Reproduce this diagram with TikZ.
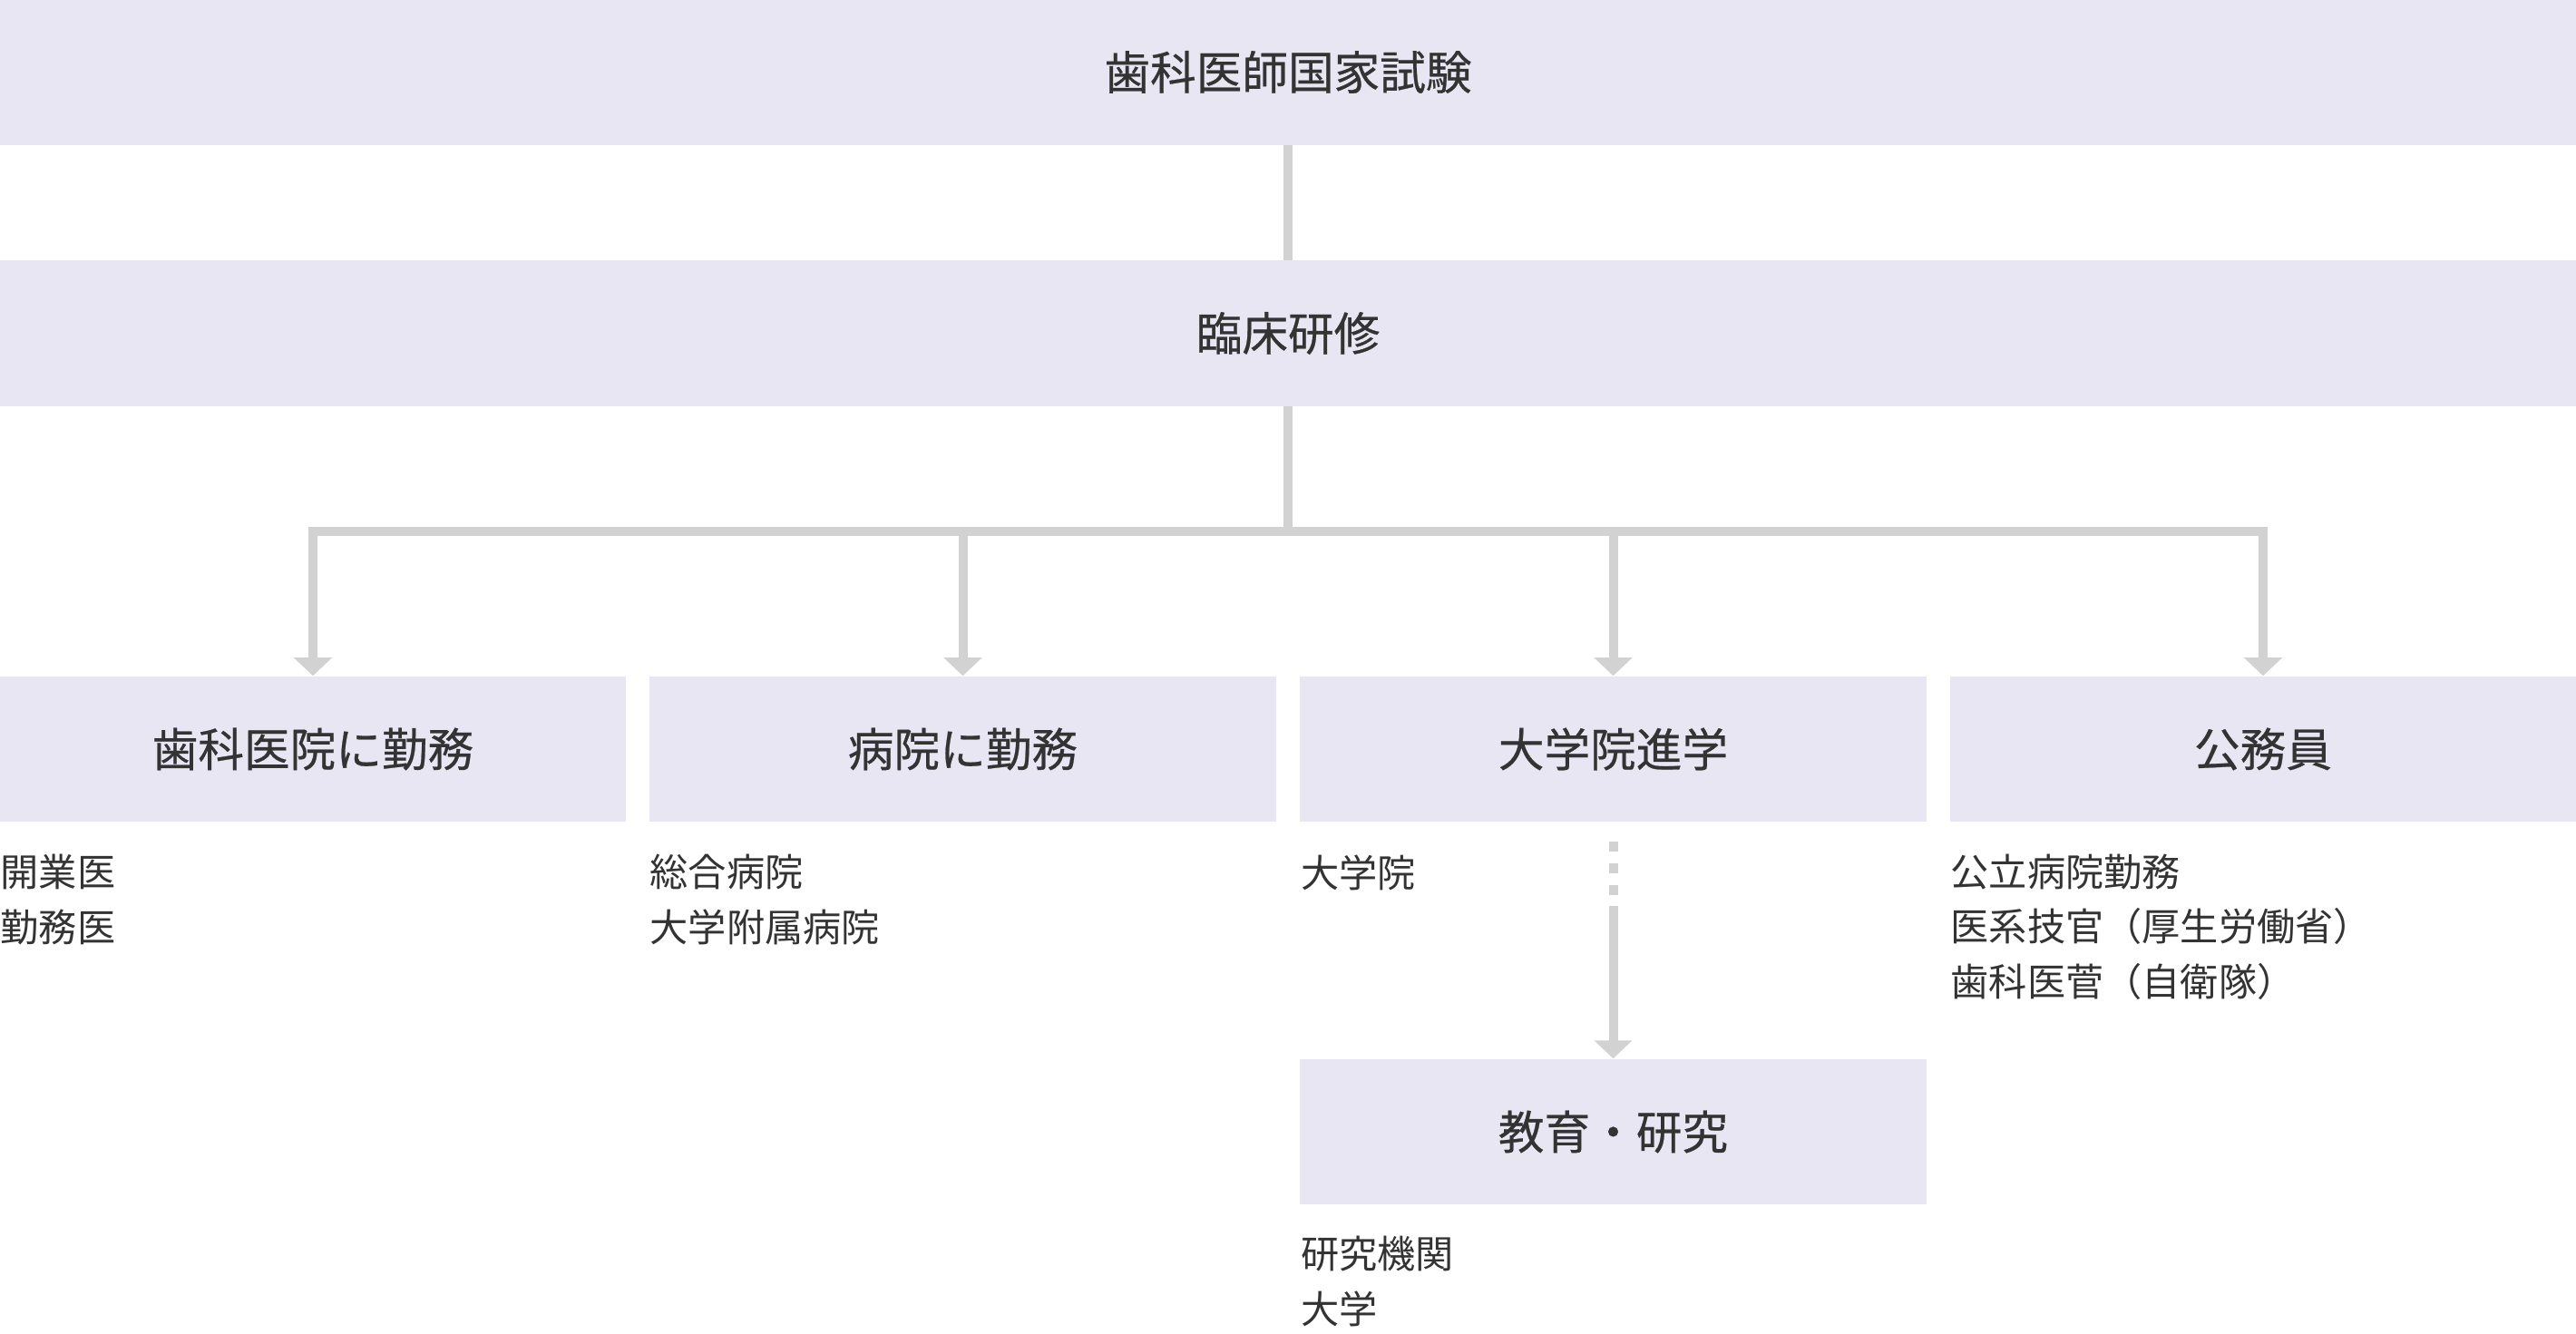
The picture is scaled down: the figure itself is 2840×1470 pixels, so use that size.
\documentclass[tikz,border=0pt]{standalone}
\usepackage{fontspec}
\setmainfont{Noto Sans CJK JP}
\newfontfamily\jpmedium[FakeBold=0.5]{Noto Sans CJK JP}
\usetikzlibrary{arrows.meta,positioning}

\definecolor{boxfill}{HTML}{E9E6F4}
\definecolor{linegray}{HTML}{D2D2D2}
\definecolor{textgray}{HTML}{333333}

\begin{document}
\begin{tikzpicture}[
    x=0.01cm,
    y=-0.01cm,
    box/.style={
        fill=boxfill,
        inner sep=0pt,
        minimum width=6.9cm,
        minimum height=1.6cm,
        text=textgray,
        font=\jpmedium\fontsize{14.4}{17}\selectfont
    },
    widebox/.style={
        box,
        minimum width=28.4cm
    },
    sublist/.style={
        anchor=base west,
        inner sep=0pt,
        align=left,
        text=textgray,
        font=\fontsize{12}{17.07}\selectfont
    },
    conn/.style={
        draw=linegray,
        line width=0.1cm
    },
    arr/.style={
        conn,
        -{Triangle[width=0.41cm,length=0.2cm]}
    }
]

    \useasboundingbox (0,0) rectangle (2840,1470);

    \node[widebox] (exam) at (1420,79.5) {歯科医師国家試験};
    \node[widebox] (training) at (1420,367.5) {臨床研修};

    \node[box] (clinic) at (345,826) {歯科医院に勤務};
    \node[box] (hospital) at (1061.5,826) {病院に勤務};
    \node[box] (gradschool) at (1778.5,826) {大学院進学};
    \node[box] (civil) at (2495,826) {公務員};
    \node[box] (research) at (1778.5,1248) {教育・研究};

    % sub items under each box (placed by the baseline of the last line)
    \node[sublist] (clinicjobs) at (0,1038) {開業医\\勤務医};
    \node[sublist] (hospitaljobs) at (716,1038) {総合病院\\大学附属病院};
    \node[sublist] (gradjobs) at (1433.5,978) {大学院};
    \node[sublist] (civiljobs) at (2150,1098)
        {公立病院勤務\\
         医系技官（厚生労働省）\\
         歯科医菅（自衛隊）};
    \node[sublist] (researchjobs) at (1433.5,1459) {研究機関\\大学};

    \draw[conn] (exam) -- (training);

    \coordinate (split) at (1420,586);
    \draw[conn] (training) -- (split);
    \foreach \target in {clinic,hospital,gradschool,civil}
        \draw[arr] (split) -| (\target.north);

    \coordinate (dashstart) at (1778.5,928);
    \draw[
        arr,
        dash pattern=on 0.11cm off 0.13cm on 0.11cm off 0.13cm
                     on 0.11cm off 0.12cm on 3cm
    ] (dashstart) -- (research.north);

\end{tikzpicture}
\end{document}
